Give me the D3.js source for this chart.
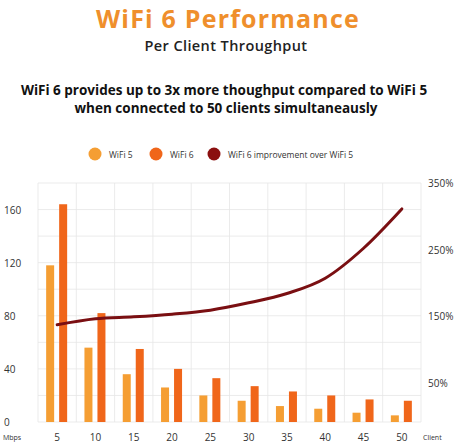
<!DOCTYPE html>
<html><head><meta charset="utf-8">
<script src="https://cdn.jsdelivr.net/npm/d3@7"></script>
<style>body{margin:0;background:#fff;font-family:"Open Sans",sans-serif}</style>
</head><body>
<script>
var clients = [5,10,15,20,25,30,35,40,45,50];
var wifi5 = [118,56,36,26,20,16,12,10,7,5];
var wifi6 = [164,82,55,40,33,27,23,20,17,16];
var improvement = [137,146,149,153,159,170,184,207,252,311];
var leftTicks = [0,40,80,120,160];
var rightTicks = [50,150,250,350];

var W = 457, H = 445;
var svg = d3.select("body").append("svg").attr("width", W).attr("height", H);
var m = {left: 38, right: 421, top: 183, bottom: 422};

var x = d3.scaleBand().domain(clients).range([m.left, m.right]);
var y = d3.scaleLinear().domain([0, 180]).range([m.bottom, m.top]);
var y2 = d3.scaleLinear().domain([-9, 350]).range([m.bottom, m.top]);

// titles
svg.append("text").attr("x", 228).attr("y", 28).attr("text-anchor", "middle")
	.attr("font-size", 25).attr("font-weight", "bold").attr("letter-spacing", 1.2)
	.attr("fill", "#ef8f2c").text("WiFi 6 Performance");
svg.append("text").attr("x", 226).attr("y", 51).attr("text-anchor", "middle")
	.attr("font-size", 14.5).attr("font-weight", 600).attr("letter-spacing", 0.4)
	.attr("fill", "#222").text("Per Client Throughput");
svg.append("text").attr("x", 224).attr("y", 95).attr("text-anchor", "middle")
	.attr("font-size", 13.5).attr("font-weight", "bold").attr("fill", "#111").text("WiFi 6 provides up to 3x more thoughput compared to WiFi 5");
svg.append("text").attr("x", 226).attr("y", 113).attr("text-anchor", "middle")
	.attr("font-size", 13.5).attr("font-weight", "bold").attr("fill", "#111").text("when connected to 50  clients simultaneausly");

// legend
var legend = [["WiFi 5", "#f59e33", 95], ["WiFi 6", "#f0661a", 156], ["WiFi 6 improvement over WiFi 5", "#8b1010", 214]];
legend.forEach(function(d) {
	svg.append("circle").attr("cx", d[2]).attr("cy", 154).attr("r", 6.5).attr("fill", d[1]);
	svg.append("text").attr("x", d[2] + 14).attr("y", 157.5).attr("font-size", 8.5).attr("fill", "#333").text(d[0]);
});

// grid
var g = svg.append("g");
d3.range(0, 181, 20).forEach(function(v) {
	g.append("line").attr("x1", m.left).attr("x2", m.right).attr("y1", y(v)).attr("y2", y(v))
		.attr("stroke", "#e6e6e6").attr("stroke-width", 0.8);
});
d3.range(0, 11).forEach(function(i) {
	var xx = m.left + i * x.step();
	g.append("line").attr("x1", xx).attr("x2", xx).attr("y1", m.top).attr("y2", m.bottom)
		.attr("stroke", "#e6e6e6").attr("stroke-width", 0.8);
});

// bars
var bw = 8;
svg.append("g").selectAll("rect").data(wifi5).join("rect")
	.attr("x", function(d, i) { return x(clients[i]) + x.bandwidth() / 2 - bw - 3; })
	.attr("y", function(d) { return y(d); }).attr("width", bw)
	.attr("height", function(d) { return y(0) - y(d); }).attr("fill", "#f59e33");
svg.append("g").selectAll("rect").data(wifi6).join("rect")
	.attr("x", function(d, i) { return x(clients[i]) + x.bandwidth() / 2 + 2; })
	.attr("y", function(d) { return y(d); }).attr("width", bw)
	.attr("height", function(d) { return y(0) - y(d); }).attr("fill", "#f0661a");

// line
var line = d3.line().x(function(d, i) { return x(clients[i]) + x.bandwidth() / 2; })
	.y(function(d) { return y2(d); }).curve(d3.curveMonotoneX);
svg.append("path").datum(improvement).attr("d", line).attr("fill", "none")
	.attr("stroke", "#7a0f12").attr("stroke-width", 3).attr("stroke-linecap", "round");

// axes labels
leftTicks.forEach(function(v) {
	svg.append("text").attr("x", 4).attr("y", y(v) + 4).attr("font-size", 10).attr("fill", "#333").text(v);
});
rightTicks.forEach(function(v) {
	svg.append("text").attr("x", 428).attr("y", y2(v) + 4).attr("font-size", 10).attr("fill", "#333").text(v + "%");
});
clients.forEach(function(c) {
	svg.append("text").attr("x", x(c) + x.bandwidth() / 2).attr("y", 441).attr("text-anchor", "middle")
		.attr("font-size", 10).attr("fill", "#333").text(c);
});
svg.append("text").attr("x", 3).attr("y", 440).attr("font-size", 7).attr("fill", "#333").text("Mbps");
svg.append("text").attr("x", 423).attr("y", 440).attr("font-size", 7).attr("fill", "#333").text("Client");
</script>
</body></html>
